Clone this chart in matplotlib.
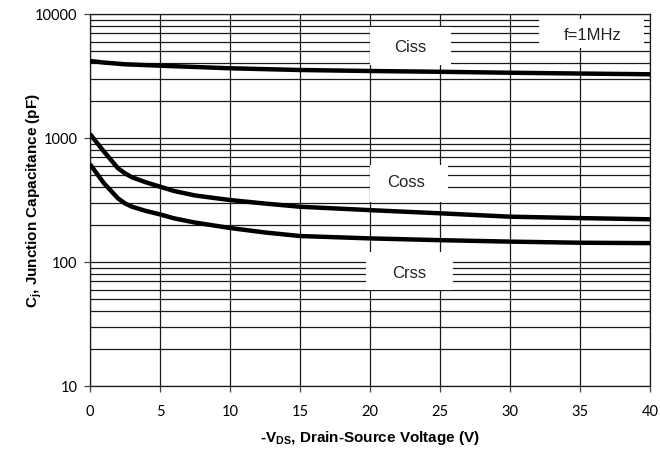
import matplotlib
matplotlib.use('Agg')
import matplotlib.pyplot as plt
from matplotlib.patches import Rectangle

# capacitance vs drain-source voltage
v_ciss = [0, 1, 2.5, 5, 10, 15, 20, 25, 30, 35, 40]
ciss = [4180, 4060, 3930, 3830, 3650, 3535, 3470, 3420, 3360, 3310, 3265]

v_low = [0, 1, 2, 2.5, 3, 4, 5, 6, 7.5, 10, 12.5, 15, 20, 25, 30, 35, 40]
coss = [1077, 776, 570, 519, 482, 439, 405, 374, 344, 316, 296, 279, 262, 247, 232, 226, 221]
crss = [614, 431, 326, 297, 279, 258, 242, 225, 208, 188, 173, 162, 155, 150, 146, 143, 142]

x_ticks = [0, 5, 10, 15, 20, 25, 30, 35, 40]
y_ticks = [10, 100, 1000, 10000]

plt.rcParams['mathtext.fontset'] = 'custom'
plt.rcParams['mathtext.rm'] = 'Liberation Sans:bold'
plt.rcParams['mathtext.bf'] = 'Liberation Sans:bold'

fig = plt.figure(figsize=(6.6, 4.49), dpi=100)
ax = fig.add_axes([90/660, 1 - 386/449, 560/660, 372/449])

ax.set_yscale('log')
ax.set_xlim(0, 40)
ax.set_ylim(10, 10000)

# grid
ax.set_xticks(x_ticks)
ax.set_yticks(y_ticks)
ax.set_yticklabels([str(t) for t in y_ticks])
ax.grid(True, which='major', color='#1a1a1a', linewidth=0.9, zorder=1)
ax.grid(True, which='minor', axis='y', color='#1a1a1a', linewidth=0.9, zorder=1)
ax.tick_params(which='minor', left=False, labelleft=False)
ax.tick_params(which='major', direction='out', length=4, width=0.9, color='#444444',
               labelsize=10.5, pad=5)
for lab in ax.get_xticklabels() + ax.get_yticklabels():
    lab.set_fontfamily('Lato')
ax.tick_params(axis='x', pad=10)
for s in ax.spines.values():
    s.set_color('#1a1a1a')
    s.set_linewidth(0.9)

# curves
ax.plot(v_ciss, ciss, color='black', lw=3.2, solid_capstyle='butt', zorder=4)
ax.plot(v_low, coss, color='black', lw=3.2, solid_capstyle='butt', zorder=4)
ax.plot(v_low, crss, color='black', lw=3.2, solid_capstyle='butt', zorder=4)

# label boxes
def label_box(x0, x1, y0, y1, txt, tx, ty):
    ax.add_patch(Rectangle((x0, y0), x1 - x0, y1 - y0, facecolor='white',
                           edgecolor='none', zorder=3))
    ax.text(tx, ty, txt, ha='center', va='center', fontsize=12,
            family='Liberation Sans', color='#222222', zorder=5)

label_box(20, 25.8, 3880, 7850, 'Ciss', 22.9, 5320)
label_box(20, 25.6, 305, 606, 'Coss', 22.6, 434)
label_box(19.7, 25.9, 59.4, 120.5, 'Crss', 22.8, 81.5)
label_box(32.1, 39.6, 5320, 9110, 'f=1MHz', 35.9, 6770)

ax.set_ylabel(r'C$_\mathrm{j}$, Junction Capacitance (pF)', fontsize=11,
              fontweight='bold', family='Liberation Sans')
ax.set_xlabel(r'-V$_\mathrm{DS}$, Drain-Source Voltage (V)', fontsize=11,
              fontweight='bold', family='Liberation Sans')
ax.yaxis.set_label_coords(-46/560, 0.5)
ax.xaxis.set_label_coords(0.5, -43/372)

fig.savefig('out.png', dpi=100)
